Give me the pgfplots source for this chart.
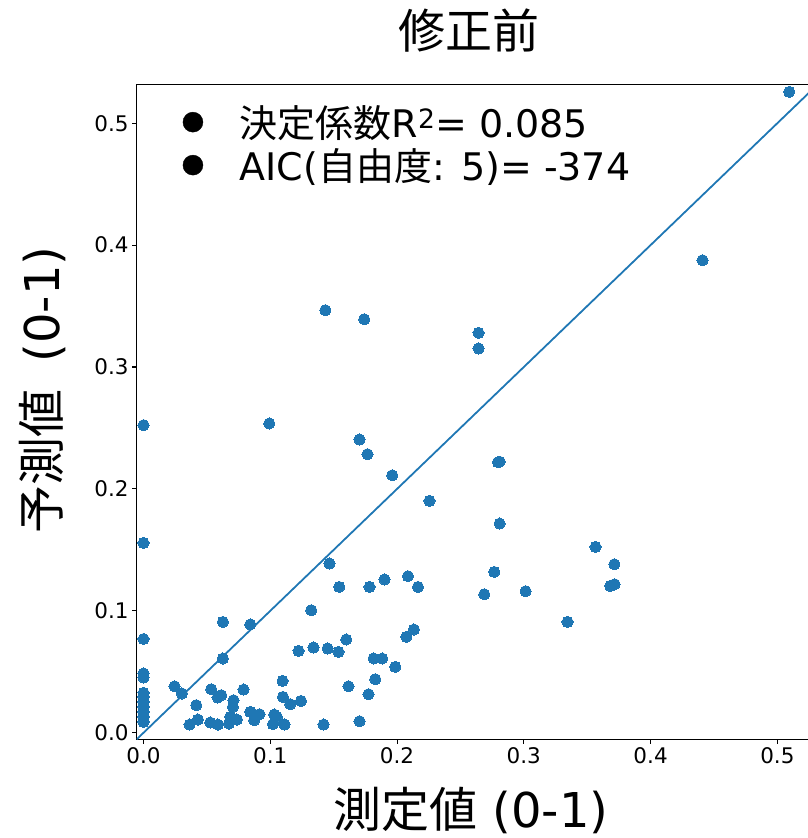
\documentclass[border=0pt]{standalone}
\usepackage{fontspec}
\usepackage{pgfplots}
\pgfplotsset{compat=1.18}
\newfontfamily\dv{DejaVu Sans}
\newfontfamily\jp{Noto Sans CJK JP}
\definecolor{tabblue}{HTML}{1F77B4}
\begin{document}
\begin{tikzpicture}
\begin{axis}[
  at={(0pt,0pt)}, anchor=south west,
  scale only axis, width=681.2pt, height=655.1pt,
  xmin=-0.0054, xmax=0.532, ymin=-0.0054, ymax=0.532,
  axis line style={line width=1.1pt, black},
  xtick={0,0.1,0.2,0.3,0.4,0.5}, ytick={0,0.1,0.2,0.3,0.4,0.5},
  xticklabels={0.0,0.1,0.2,0.3,0.4,0.5},
  yticklabels={0.0,0.1,0.2,0.3,0.4,0.5},
  tick pos=left, tick align=outside, major tick length=4.5pt,
  tick style={line width=1.1pt, black},
  tick label style={font=\dv\fontsize{21.5}{25}\selectfont},
  title={\jp 修正前},
  title style={font=\fontsize{47}{55}\selectfont, at={(axis description cs:0.4878,1.0728)}, anchor=center},
  xlabel={{\jp 測定値} (0-1)},
  xlabel style={font=\dv\fontsize{48}{56}\selectfont, at={(axis description cs:0.4908,-0.109)}, anchor=center},
  ylabel={{\jp 予測値}\hspace{27pt}(0-1)},
  ylabel style={font=\dv\fontsize{48}{56}\selectfont, at={(axis description cs:-0.139,0.5332)}, anchor=center},
  legend style={at={(axis description cs:0.0632,0.974)}, anchor=north west, draw=none, fill=none,
    font=\dv\fontsize{38}{44}\selectfont, column sep=34.7pt, row sep=5.5pt},
  legend cell align=left,
  clip=true,
]
\addlegendimage{only marks, mark=*, mark size=10pt, black}
\addlegendentry{{\jp 決定係数}R\textsuperscript{2}= 0.085}
\addlegendimage{only marks, mark=*, mark size=10pt, black}
\addlegendentry{AIC({\jp 自由度}: 5)= -374}
\addplot[tabblue, line width=1.8pt, no marks, forget plot] coordinates {(-0.0054,-0.0054) (0.532,0.532)};
\addplot[only marks, mark=*, mark size=5.6pt, mark options={fill=tabblue, draw=tabblue, line width=0pt}, forget plot] coordinates {
(0,0.2523) (0,0.1557) (0,0.0769) (0,0.0486) (0,0.0453) (0,0.0327) (0,0.0294) (0,0.0253) (0,0.0212) (0,0.0171) (0,0.0130) (0,0.0089)
(0.0245,0.0381) (0.0303,0.0322) (0.0416,0.0226) (0.0363,0.0067) (0.0429,0.0108) (0.0526,0.0084) (0.0534,0.0357)
(0.0587,0.0067) (0.0584,0.0289) (0.0613,0.0308) (0.0626,0.0609) (0.0626,0.0909) (0.0674,0.0075) (0.0684,0.0130)
(0.0705,0.0212) (0.0710,0.0267) (0.0737,0.0108) (0.0789,0.0354) (0.0842,0.0888) (0.0842,0.0171) (0.0881,0.0144)
(0.0915,0.0152) (0.0873,0.0103) (0.1021,0.0070) (0.1031,0.0149) (0.1052,0.0130) (0.1112,0.0067) (0.1097,0.0425)
(0.1100,0.0294) (0.1157,0.0234) (0.1242,0.0261) (0.1223,0.0671) (0.1323,0.1005) (0.1341,0.0699) (0.1452,0.0691)
(0.1420,0.0067) (0.1467,0.1388) (0.1544,0.1196) (0.1538,0.0663) (0.1599,0.0765) (0.1617,0.0381) (0.1704,0.0094)
(0.1775,0.0316) (0.1783,0.1196) (0.1901,0.1257) (0.1815,0.0609) (0.1883,0.0609) (0.1828,0.0439) (0.1986,0.0540)
(0.2073,0.0786) (0.2133,0.0847) (0.2086,0.1284) (0.2165,0.1196) (0.2688,0.1136) (0.2767,0.1319) (0.0992,0.2537)
(0.1704,0.2405) (0.1767,0.2285) (0.1962,0.2112) (0.2256,0.1902) (0.2643,0.3280) (0.2643,0.3152) (0.2796,0.2219)
(0.2810,0.2223) (0.2809,0.1716) (0.3566,0.1524) (0.3714,0.1382) (0.3682,0.1204) (0.3716,0.1218) (0.3345,0.0909)
(0.3014,0.1161) (0.1741,0.3392) (0.1434,0.3466) (0.4410,0.3876) (0.5094,0.5257)
};
\end{axis}
\pgfresetboundingbox
\useasboundingbox (-136.7pt,-98.7pt) rectangle (670.3pt,739.3pt);
\end{tikzpicture}
\end{document}
